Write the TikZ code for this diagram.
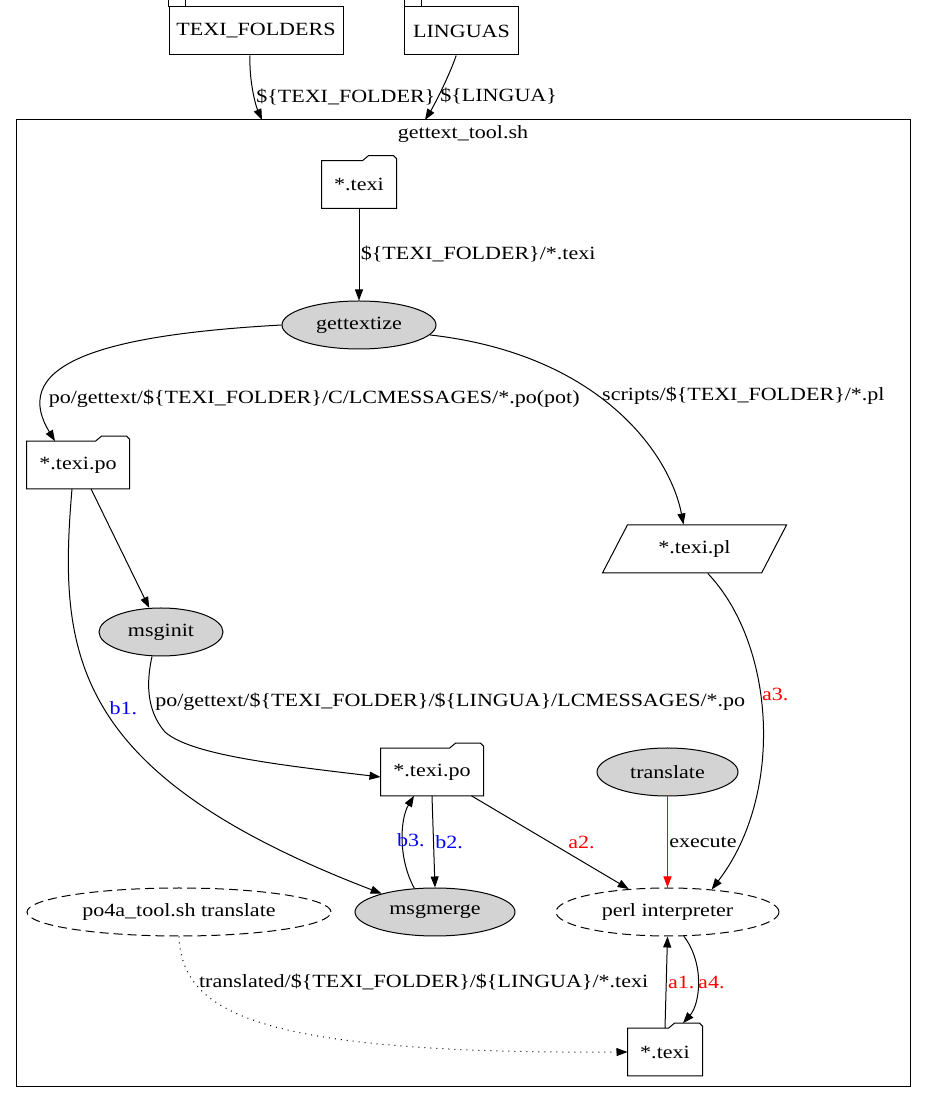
\documentclass[tikz,border=0pt]{standalone}
\usepackage{fontspec}
\setmainfont{Liberation Serif}[FakeStretch=1.18]
\usepackage{tikz}
\usetikzlibrary{shapes, arrows.meta, positioning}
\definecolor{procgray}{RGB}{211,211,211}
\definecolor{stepblue}{RGB}{0,0,255}
\definecolor{stepred}{RGB}{255,0,0}

\begin{document}
\begin{tikzpicture}[x=0.75pt, y=0.75pt, line width=0.75pt,
    font=\fontsize{14}{16}\selectfont,
    >={Triangle[length=8.25pt, width=6pt]},
    folder/.style={inner sep=0pt, minimum width=55.5pt, minimum height=35pt},
    tabbox/.style={draw, inner xsep=0pt, minimum height=36pt},
    proc/.style={ellipse, draw, fill=procgray, inner sep=0pt, minimum height=36pt},
    extern/.style={ellipse, draw, dash pattern=on 6.75pt off 3.75pt, inner sep=0pt, minimum height=36pt},
    blab/.style={text=stepblue},
    rlab/.style={text=stepred}]
  \useasboundingbox (0,0) rectangle (927,1104);
  % cluster
  \node[draw, minimum width=670.5pt, minimum height=725.25pt, inner sep=0pt] (tool) at (463,500.5) {};
  \node (toollabel) at (463,970) {gettext\_tool.sh};
  \coordinate (tfin) at (262,984);
  \coordinate (lgin) at (425,984);
  % inputs
  \node[tabbox, minimum width=130.5pt] (texifolders) at (256,1073) {TEXI\_FOLDERS};
  \node[tabbox, minimum width=85pt] (linguas) at (461.5,1073) {LINGUAS};
  \foreach \n in {texifolders, linguas}
    \draw (\n.north west) rectangle ++(12.75pt,6pt);
  % files
  \node[folder] (texi) at (359,919.5) {*.texi};
  \node[folder, minimum width=76.5pt] (texipo) at (78,639) {*.texi.po};
  \node[folder, minimum width=76.5pt] (texipomid) at (432,332) {*.texi.po};
  \node[folder] (texiout) at (665,52) {*.texi};
  \foreach \n in {texi, texipo, texipomid, texiout}
    \draw (\n.south west) -- (\n.north west) -- ([xshift=-25.5pt]\n.north east)
      -- ++(4.5pt,3.75pt) -- ([xshift=-2.25pt, yshift=3.75pt]\n.north east)
      -- ([yshift=1.5pt]\n.north east) -- (\n.south east) -- cycle;
  \node[trapezium, draw, trapezium left angle=51.6, trapezium right angle=128.4,
    trapezium stretches=true, minimum width=138.75pt, minimum height=36pt, inner sep=0pt]
    (texipl) at (694.5,555) {*.texi.pl};
  % tools
  \node[proc, minimum width=115.5pt] (gettextize) at (359,779) {gettextize};
  \node[proc, minimum width=93pt] (msginit) at (161,472) {msginit};
  \node[proc, minimum width=120pt] (msgmerge) at (435,192) {msgmerge};
  \node[proc, minimum width=105.75pt] (translate) at (667.5,332) {translate};
  \node[extern, minimum width=167.25pt] (perl) at (667.5,192) {perl interpreter};
  \node[extern, minimum width=228pt] (po4a) at (179,192) {po4a\_tool.sh translate};

  \draw[->] ([xshift=-4.5pt]texifolders.south) .. controls (249,1025) and (255,1000) .. (tfin)
    node[pos=0.6, anchor=west, inner xsep=1pt] {\$\{TEXI\_FOLDER\}};
  \draw[->] ([xshift=-4pt]linguas.south) .. controls (450,1030) and (435,1000) .. (lgin)
    node[pos=0.6, anchor=west, inner xsep=1pt] {\$\{LINGUA\}};
  \draw[->] (texi) -- (gettextize) node[midway, right, inner xsep=1pt] {\$\{TEXI\_FOLDER\}/*.texi};
  \draw[->] (gettextize.west) .. controls (120,770) and (5,745) .. ([xshift=-17.25pt]texipo.north)
    node[pos=0.8, right] {po/gettext/\$\{TEXI\_FOLDER\}/C/LCMESSAGES/*.po(pot)};
  \draw[->] (gettextize.-8) .. controls (600,750) and (670,650) .. ([xshift=-8.25pt]texipl.north)
    node[pos=0.43, right] {scripts/\$\{TEXI\_FOLDER\}/*.pl};
  \draw[->] ([xshift=9.75pt]texipo.south) -- (msginit);
  \draw[->] ([xshift=-4.5pt]texipo.south) .. controls (58,450) and (70,330) .. (msgmerge.161)
    node[midway, right, blab] {b1.};
  \draw[->] ([xshift=-6.75pt]msginit.south) .. controls (147,425) and (145,395) .. (165,372)
    node[pos=0.6, right] {po/gettext/\$\{TEXI\_FOLDER\}/\$\{LINGUA\}/LCMESSAGES/*.po}
    .. controls (190,350) and (270,340) .. ([yshift=-3.75pt]texipomid.west);
  \draw[->] (texipomid.south) -- (msgmerge.north) node[midway, right, inner xsep=1pt, blab] {b2.};
  \draw[->] (msgmerge.131) .. controls (398,245) and (400,285) .. ([xshift=-13.5pt]texipomid.south)
    node[midway, xshift=6pt, blab] {b3.};
  \draw[->] ([xshift=-9pt]texipomid.south east) -- (perl) node[midway, right=10pt, rlab] {a2.};
  \draw[->, stepred] (translate) -- (perl) node[midway, right, inner xsep=1pt, black] {execute};
  \draw[->] ([xshift=10pt]texipl.south) .. controls (775,460) and (785,310) .. (perl.27)
    node[pos=0.42, right, inner xsep=1pt, rlab] {a3.};
  \draw[->, dash pattern=on 0.75pt off 3.75pt] (po4a.south) .. controls (182,90) and (260,50) .. (texiout.west)
    node[pos=0.22, right] {translated/\$\{TEXI\_FOLDER\}/\$\{LINGUA\}/*.texi};
  \draw[->] (texiout.north) -- (perl.south) node[midway, right, inner xsep=1pt, rlab] {a1.};
  \draw[->] (perl.-56) .. controls (705,140) and (700,100) .. ([xshift=13.5pt, yshift=3.75pt]texiout.north)
    node[midway, right, inner xsep=0pt, rlab] {a4.};
\end{tikzpicture}
\end{document}
